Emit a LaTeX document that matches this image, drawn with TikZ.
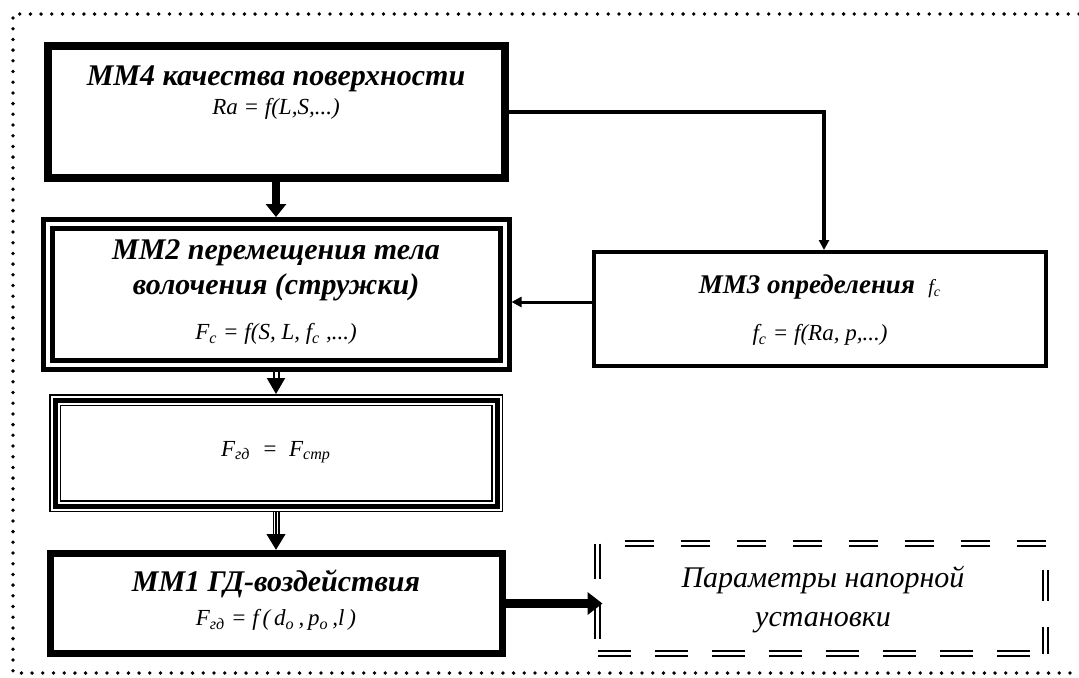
\documentclass[tikz,border=0pt]{standalone}
\usepackage{fontspec}
\setmainfont{Liberation Serif}
\usetikzlibrary{arrows.meta}

\newcommand\hdfont{\fontsize{15}{17.5}\selectfont\bfseries\itshape}
\newcommand\eqfont{\fontsize{11.5}{13}\selectfont\itshape}

\tikzset{
  box/.style = {draw, inner sep = 0pt},
  thickbox/.style = {box, line width = 4pt},
  dblbox/.style = {box, line width = 2.5pt, double, double distance = 2pt, outer sep = 3.5pt},
  tribox/.style = {box, line width = 6pt,
    postaction = {draw = white, line width = 4.5pt},
    postaction = {draw = black, line width = 2.5pt}},
  dashside/.style = {line width = 1pt, double, double distance = 1.5pt},
  frame/.style = {line width = 1.9pt, line cap = round, dash pattern = on 0pt off 5.35pt},
  fatarrow/.style = {line width = 4pt, -{Triangle[width = 10pt, length = 6.5pt]}},
  thinarrow/.style = {line width = 2pt, -{Triangle[width = 5pt, length = 5pt]}},
  dblarrow/.style = {line width = 1pt, double, double distance = 1.5pt,
    -{Triangle[width = 9pt, length = 8pt]}},
  triarrow/.style = {line width = 3.5pt, -{Triangle[width = 9pt, length = 8pt]},
    postaction = {draw = white, line width = 2pt, shorten > = 8pt, -},
    postaction = {draw = black, line width = 0.75pt, shorten > = 8pt, -}}
}

\begin{document}
\begin{tikzpicture}[x = 0.5pt, y = -0.5pt]
\useasboundingbox (0,0) rectangle (1079,677);
\draw[frame] (1079,14) -- (13,14) -- (13,673) -- (1079,673);

% left column
\node[thickbox, minimum width = 228.5pt, minimum height = 66pt] (mm4) at (276,112) {};
\node[dblbox, minimum width = 228.5pt, minimum height = 70.5pt] (mm2) at (276,294.5) {};
\node[tribox, minimum width = 221pt, minimum height = 53pt] (res) at (276,453) {};
\node[box, line width = 3.5pt, minimum width = 226pt, minimum height = 50pt] (mm1) at (276,603.5) {};

% right column
\node[box, line width = 2pt, minimum width = 226pt, minimum height = 57pt] (mm3) at (820,309) {};
\node[inner sep = 0pt, outer sep = 0pt, minimum width = 224pt, minimum height = 55pt] (par) at (821.5,598.5) {};
\draw[dashside, dash pattern = on 14.5pt off 13.5pt, dash phase = 14.5pt] (par.north west) -- (par.north east);
\draw[dashside, dash pattern = on 16.5pt off 12pt] (par.south west) -- (par.south east);
\draw[dashside, dash pattern = on 17.5pt off 12.5pt] (par.north west) -- (par.south west);
\draw[dashside, dash pattern = on 15.5pt off 13pt, dash phase = 15.5pt] (par.north east) -- (par.south east);

% texts
\node[font = \hdfont] (t4) at (276,79) {ММ4 качества поверхности};
\node[font = \eqfont] (e4) at (276,109) {Ra = f(L,S,...)};
\node[font = \hdfont, align = center] (t2) at (276,270) {ММ2 перемещения тела\\волочения (стружки)};
\node[font = \eqfont] (e2) at (276,334) {F\textsubscript{c} = f(S, L, f\textsubscript{c} ,...)};
\node[font = \eqfont] (e0) at (276,452) {F\textsubscript{гд} \ = \ F\textsubscript{стр}};
\node[font = \hdfont] (t1) at (276,584) {ММ1 ГД-воздействия};
\node[font = \eqfont] (e1) at (276,620) {F\textsubscript{гд} = f\,(\,d\textsubscript{о}\,,\,p\textsubscript{о}\,,l\,)};
\node[font = \fontsize{13.5}{16}\selectfont\bfseries\itshape] (t3) at (820,287)
  {ММ3 определения \ \textmd{\fontsize{10}{12}\selectfont f\textsubscript{c}}};
\node[font = \eqfont] (e3) at (820,335) {f\textsubscript{c} = f(Ra, p,...)};
\node[font = \fontsize{15}{19.5}\selectfont\itshape, align = center] (tp) at (823,600)
  {Параметры напорной\\установки};

% connectors
\draw[fatarrow] (mm4.south) -- (mm2.north);
\draw[dblarrow] (mm2.south) -- (res.north);
\draw[triarrow] (res.south) -- (mm1.north);
\draw[thinarrow] (mm4.east) -| ([xshift = 2pt]mm3.north);
\draw[thinarrow, line width = 1.5pt] ([yshift = 3.5pt]mm3.west) -- ([yshift = 3.5pt]mm3.west -| mm2.east);
\draw[line width = 4.5pt, -{Triangle[width = 11pt, length = 7.5pt]}, shorten > = -2.5pt] (mm1.east) -- (mm1.east -| par.west);
\end{tikzpicture}
\end{document}
